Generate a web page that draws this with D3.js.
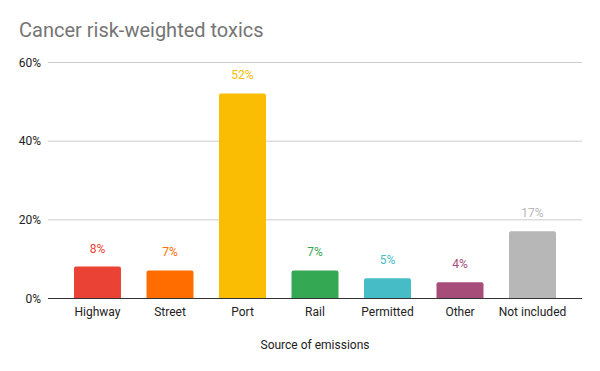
<!DOCTYPE html>
<html><head><meta charset="utf-8">
<script src="https://cdn.jsdelivr.net/npm/d3@7"></script>
<style>body{margin:0;background:#fff;}svg{display:block;font-family:Roboto,sans-serif;}</style>
</head><body>
<svg id="c" width="600" height="371"></svg>
<script>
const categories = ["Highway","Street","Port","Rail","Permitted","Other","Not included"];
const values = [8,7,52,7,5,4,17];
const colors = ["#ea4335","#ff6d01","#fbbc04","#34a853","#46bdc6","#a64d79","#b7b7b7"];
const yTicks = [0,20,40,60];
const title = "Cancer risk-weighted toxics";
const xTitle = "Source of emissions";

const svg = d3.select("#c");
const plotL = 48, plotR = 582, y0 = 298, yTop = 62;
const x = d3.scaleBand().domain(categories).range([61.25,568.75]).paddingInner(0.352).paddingOuter(0.176);
const y = d3.scaleLinear().domain([0,60]).range([y0,yTop]);

svg.append("rect").attr("width",600).attr("height",371).attr("fill","#fff");
svg.append("text").attr("x",19).attr("y",37).attr("font-size",20).attr("fill","#757575").text(title);

const g = svg.append("g");
g.selectAll(".grid").data(yTicks.filter(d=>d>0)).join("line")
  .attr("x1",plotL).attr("x2",plotR).attr("y1",d=>y(d)+0.5).attr("y2",d=>y(d)+0.5)
  .attr("stroke","#cccccc").attr("stroke-width",1);
g.selectAll(".yl").data(yTicks).join("text")
  .attr("x",41).attr("y",d=>y(d)+4.5).attr("text-anchor","end").attr("font-size",12).attr("fill","#222")
  .text(d=>d+"%");

g.selectAll(".bar").data(values).join("path")
  .attr("fill",(d,i)=>colors[i])
  .attr("d",(d,i)=>{
    const x0 = x(categories[i]), w = x.bandwidth(), top = y(d), r = 2;
    return `M${x0},${y0}V${top+r}Q${x0},${top} ${x0+r},${top}H${x0+w-r}Q${x0+w},${top} ${x0+w},${top+r}V${y0}Z`;
  });
g.selectAll(".vl").data(values).join("text")
  .attr("x",(d,i)=>x(categories[i])+x.bandwidth()/2).attr("y",d=>y(d)-14)
  .attr("text-anchor","middle").attr("font-size",12).attr("fill",(d,i)=>colors[i])
  .text(d=>d+"%");

g.append("line").attr("x1",plotL).attr("x2",plotR).attr("y1",y0+0.5).attr("y2",y0+0.5).attr("stroke","#333").attr("stroke-width",1);

g.selectAll(".xl").data(categories).join("text")
  .attr("x",d=>x(d)+x.bandwidth()/2).attr("y",316).attr("text-anchor","middle").attr("font-size",12).attr("fill","#222")
  .text(d=>d);
svg.append("text").attr("x",315).attr("y",349).attr("text-anchor","middle").attr("font-size",12).attr("fill","#222").text(xTitle);
</script>
</body></html>
